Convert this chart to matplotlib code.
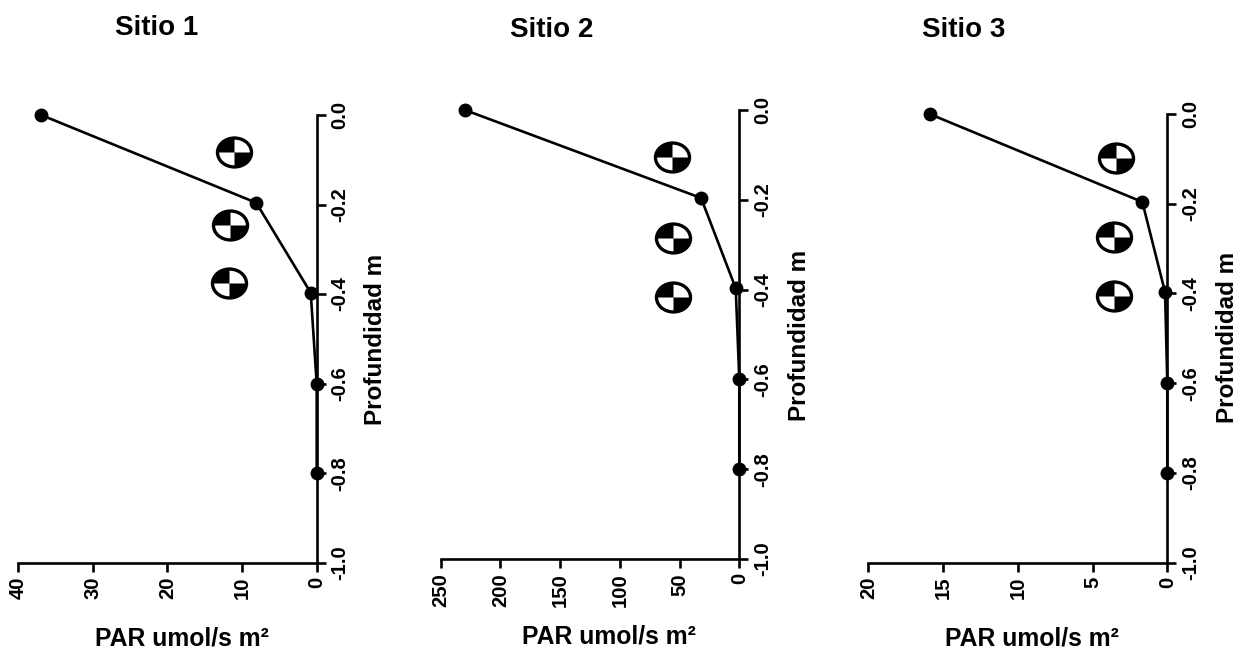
import matplotlib
matplotlib.use("Agg")
import matplotlib.pyplot as plt
from matplotlib.path import Path
from matplotlib.transforms import Affine2D

plt.rcParams['font.family'] = ['Liberation Sans', 'DejaVu Sans']
plt.rcParams['font.weight'] = 'bold'

# Data
titles = ["Sitio 1", "Sitio 2", "Sitio 3"]
depth = [0.0, -0.196, -0.397, -0.6, -0.8]
par_1 = [36.9, 8.1, 0.8, 0.0, 0.0]
par_2 = [229.7, 32, 3, 0.0, 0.0]
par_3 = [15.9, 1.67, 0.15, 0.0, 0.0]
secchi_x_1 = [11.07, 11.6, 11.74]
secchi_y_1 = [-0.083, -0.246, -0.375]
secchi_x_2 = [56, 55.3, 55.5]
secchi_y_2 = [-0.104, -0.286, -0.417]
secchi_x_3 = [3.45, 3.56, 3.56]
secchi_y_3 = [-0.099, -0.275, -0.406]
xticks_1 = [40, 30, 20, 10, 0]
xticks_2 = [250, 200, 150, 100, 50, 0]
xticks_3 = [20, 15, 10, 5, 0]
yticks = [0.0, -0.2, -0.4, -0.6, -0.8, -1.0]
xlabel = "PAR umol/s m²"
ylabel = "Profundidad m"

W, H = 1238, 651
fig = plt.figure(figsize=(W / 100, H / 100), dpi=100, facecolor='white')

squash = Affine2D().scale(1, 0.85)
disc = Path.unit_circle().transformed(squash)
quarters = Path.make_compound_path(Path.wedge(90, 180), Path.wedge(270, 360)).transformed(squash)

panels = [
    dict(left=18.0, right=316.7, top=115.0, bottom=562.7, par=par_1, sx=secchi_x_1, sy=secchi_y_1,
         ticks=xticks_1, title=titles[0], tx=156.7, ty=28, lx=181.7, ly=638, yx=376, yy=339),
    dict(left=440.7, right=739.3, top=110.0, bottom=559.0, par=par_2, sx=secchi_x_2, sy=secchi_y_2,
         ticks=xticks_2, title=titles[1], tx=552, ty=30, lx=609, ly=637, yx=799, yy=335),
    dict(left=868.3, right=1167.3, top=114.0, bottom=562.7, par=par_3, sx=secchi_x_3, sy=secchi_y_3,
         ticks=xticks_3, title=titles[2], tx=964, ty=30, lx=1032, ly=638, yx=1227, yy=337),
]

for p in panels:
    ax = fig.add_axes([p['left'] / W, 1 - p['bottom'] / H,
                       (p['right'] - p['left']) / W, (p['bottom'] - p['top']) / H])
    ax.patch.set_alpha(0)
    ax.set_xlim(max(p['ticks']), 0)
    ax.set_ylim(-1.0, 0.0)
    for s in ('top', 'left'):
        ax.spines[s].set_visible(False)
    for s in ('right', 'bottom'):
        ax.spines[s].set_linewidth(1.9)
    ax.yaxis.tick_right()
    ax.set_xticks(p['ticks'])
    ax.set_yticks(yticks)
    ax.set_yticklabels([f"{v:.1f}" for v in yticks], rotation=90, va='center', fontsize=14.6, fontweight='bold')
    ax.set_xticklabels([str(v) for v in p['ticks']], rotation=90, ha='center', fontsize=14.6, fontweight='bold')
    ax.tick_params(axis='both', length=6.5, width=1.9, direction='out', pad=3.5)

    ax.plot(p['par'], depth, color='black', lw=1.9, marker='o', ms=10, mew=0, clip_on=False, zorder=4)
    ax.plot(p['sx'], p['sy'], ls='none', marker=disc, ms=24.5, mfc='white', mec='black', mew=2.4,
            clip_on=False, zorder=5)
    ax.plot(p['sx'], p['sy'], ls='none', marker=quarters, ms=24.5, mfc='black', mec='black', mew=0,
            clip_on=False, zorder=6)

    fig.text(p['tx'] / W, 1 - p['ty'] / H, p['title'], fontsize=20, fontweight='bold', ha='center', va='center')
    fig.text(p['lx'] / W, 1 - p['ly'] / H, xlabel, fontsize=17.8, fontweight='bold', ha='center', va='center')
    fig.text(p['yx'] / W, 1 - p['yy'] / H, ylabel, fontsize=17.5, fontweight='bold', ha='center', va='center',
             rotation=90)

fig.savefig("out.png", dpi=100, facecolor='white')
